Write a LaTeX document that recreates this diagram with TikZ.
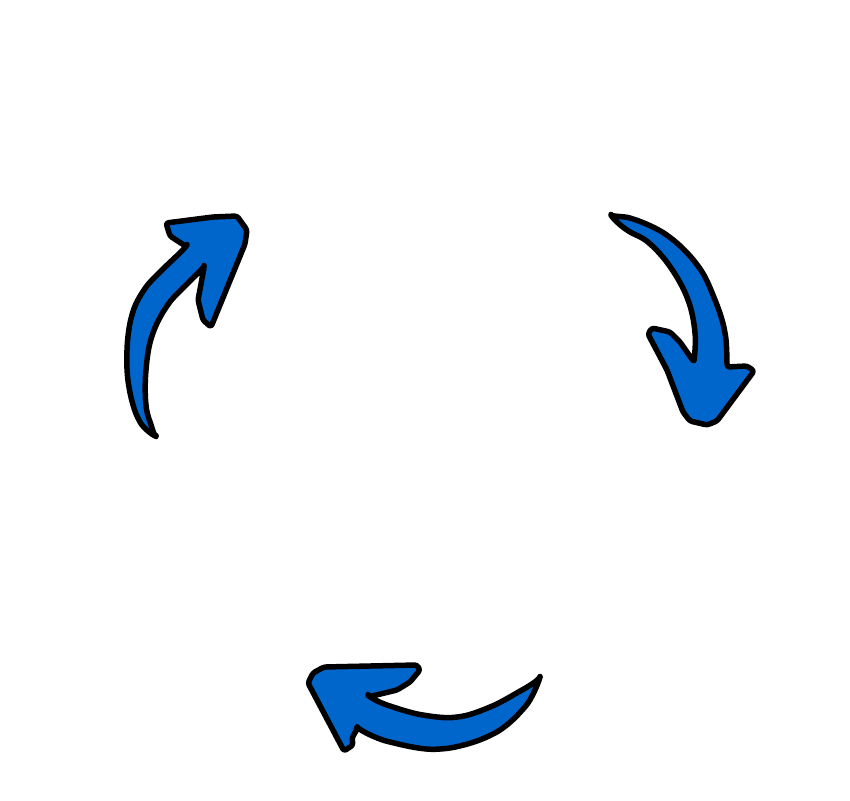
\documentclass[tikz,border=0pt]{standalone}
\usepackage{tikz}

\definecolor{arrowblue}{RGB}{0,102,204}

\begin{document}
\begin{tikzpicture}
[
    x=1pt, y=-1pt,
    cyclearrow/.style={draw=black, line width=5.5pt, fill=arrowblue, line join=round, line cap=round, rounded corners=2.5pt},
]
\useasboundingbox (0,0) rectangle (850,800);
% left arrow, pointing up
\draw [cyclearrow] (156,438)
    -- plot [smooth, tension=0.6] coordinates {(156,438) (139,420) (129,387) (127,350) (132,315) (144,290) (162,270) (187,247)}
    -- (170,236) -- (166,223) -- (213,217) -- (237,216) -- (247,230) -- (245,244)
    -- (211,327) -- (203,320) -- (198,300) -- (204,268)
    -- plot [smooth, tension=0.6] coordinates {(204,268) (188,283) (167,306) (152,336) (146,370) (146,405) (152,428) (156,438)}
    -- cycle;
% right arrow, pointing down
\draw [cyclearrow] (611,217)
    -- plot [smooth, tension=0.6] coordinates {(611,217) (633,219) (668,236) (698,266) (715,300) (725,333) (727,367)}
    -- (747,366) -- (754,371) -- (717,421) -- (707,425) -- (690,421) -- (683,412)
    -- (667,370) -- (648,334) -- (652,328) -- (670,332) -- (680,342) -- (694,362)
    -- plot [smooth, tension=0.6] coordinates {(694,362) (695,333) (688,300) (671,268) (649,243) (627,230) (611,217)}
    -- cycle;
% bottom arrow, pointing left
\draw [cyclearrow] (540,679)
    -- plot [smooth, tension=0.6] coordinates {(540,679) (524,708) (491,735) (440,749) (390,742) (357,729)}
    -- (352,738) -- (353,745) -- (344,751) -- (308,683) -- (313,673) -- (324,667)
    -- (417,665) -- (420,670) -- (410,682) -- (397,690) -- (368,697)
    -- plot [smooth, tension=0.6] coordinates {(368,697) (390,706) (423,715) (457,717) (490,707) (522,690) (540,679)}
    -- cycle;
\end{tikzpicture}
\end{document}
